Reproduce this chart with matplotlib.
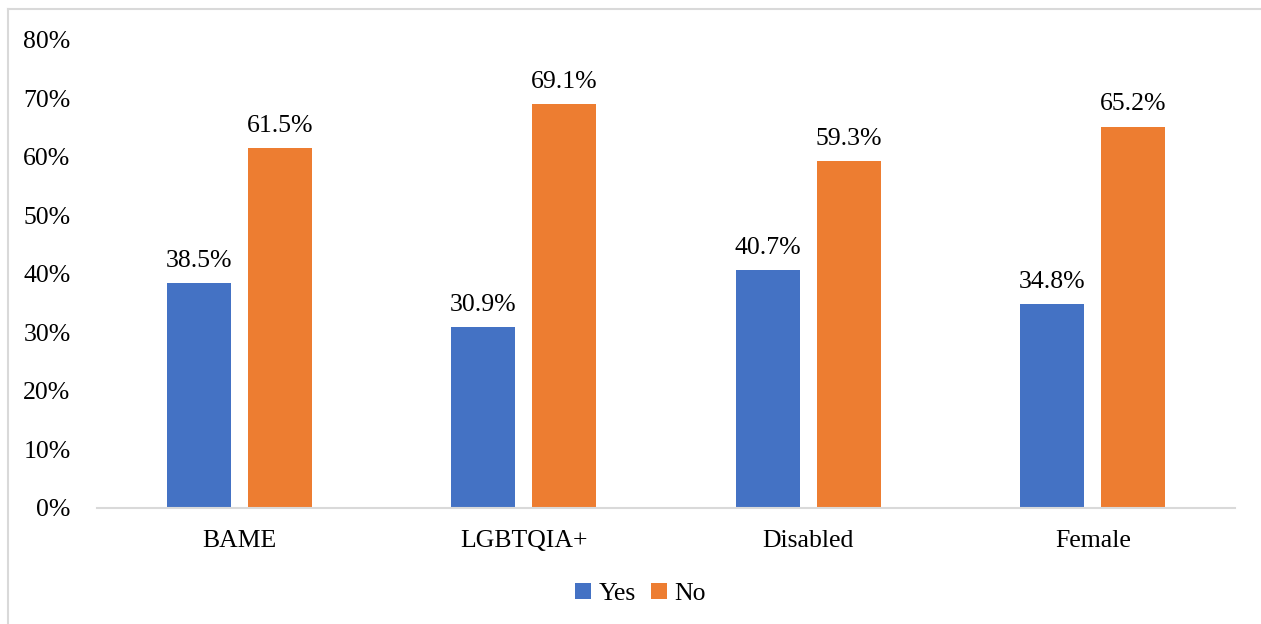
import numpy as np
import matplotlib.pyplot as plt
from matplotlib.lines import Line2D

CATEGORIES = ['BAME', 'LGBTQIA+', 'Disabled', 'Female']
YES = [38.5, 30.9, 40.7, 34.8]
NO = [61.5, 69.1, 59.3, 65.2]
SERIES = ['Yes', 'No']
COLORS = ['#4472C4', '#ED7D31']

plt.rcParams['font.family'] = ['Liberation Serif', 'DejaVu Serif']
FS = 18.5

fig = plt.figure(figsize=(12.61, 6.24), dpi=100)
ax = fig.add_axes([0.0769, 0.1859, 0.9025, 0.75])

x = np.arange(len(CATEGORIES))
w = 0.225
off = 0.142
bars_yes = ax.bar(x - off, YES, w, color=COLORS[0], label=SERIES[0])
bars_no = ax.bar(x + off, NO, w, color=COLORS[1], label=SERIES[1])

for bars in (bars_yes, bars_no):
    for b in bars:
        h = b.get_height()
        ax.annotate(f'{h:.1f}%', (b.get_x() + b.get_width() / 2, h),
                    xytext=(0, 8), textcoords='offset points',
                    ha='center', va='bottom', fontsize=FS)

ax.set_xlim(-0.5, len(CATEGORIES) - 0.5)
ax.set_ylim(0, 80)
ax.set_yticks(range(0, 81, 10))
ax.set_yticklabels([f'{v}%' for v in range(0, 81, 10)])
ax.set_xticks(x)
ax.set_xticklabels(CATEGORIES)
ax.tick_params(axis='both', length=0, labelsize=FS, colors='black')
ax.tick_params(axis='y', pad=19)
ax.tick_params(axis='x', pad=16)

for s in ['top', 'right', 'left']:
    ax.spines[s].set_visible(False)
ax.spines['bottom'].set_color('#D9D9D9')
ax.spines['bottom'].set_linewidth(1.5)

fig.legend(loc='center', bbox_to_anchor=(0.508, 0.048), ncol=2, frameon=False,
           fontsize=FS, handlelength=0.6, handleheight=0.6,
           handletextpad=0.3, columnspacing=0.6)

# outer chart border (only top and left edges fall inside the image)
bx = 8 / 1261
by = 1 - 9 / 624
fig.add_artist(Line2D([bx, 1.0], [by, by], transform=fig.transFigure,
                      color='#D9D9D9', linewidth=1.5))
fig.add_artist(Line2D([bx, bx], [0.0, by], transform=fig.transFigure,
                      color='#D9D9D9', linewidth=1.5))

fig.savefig('out.png', dpi=100)
